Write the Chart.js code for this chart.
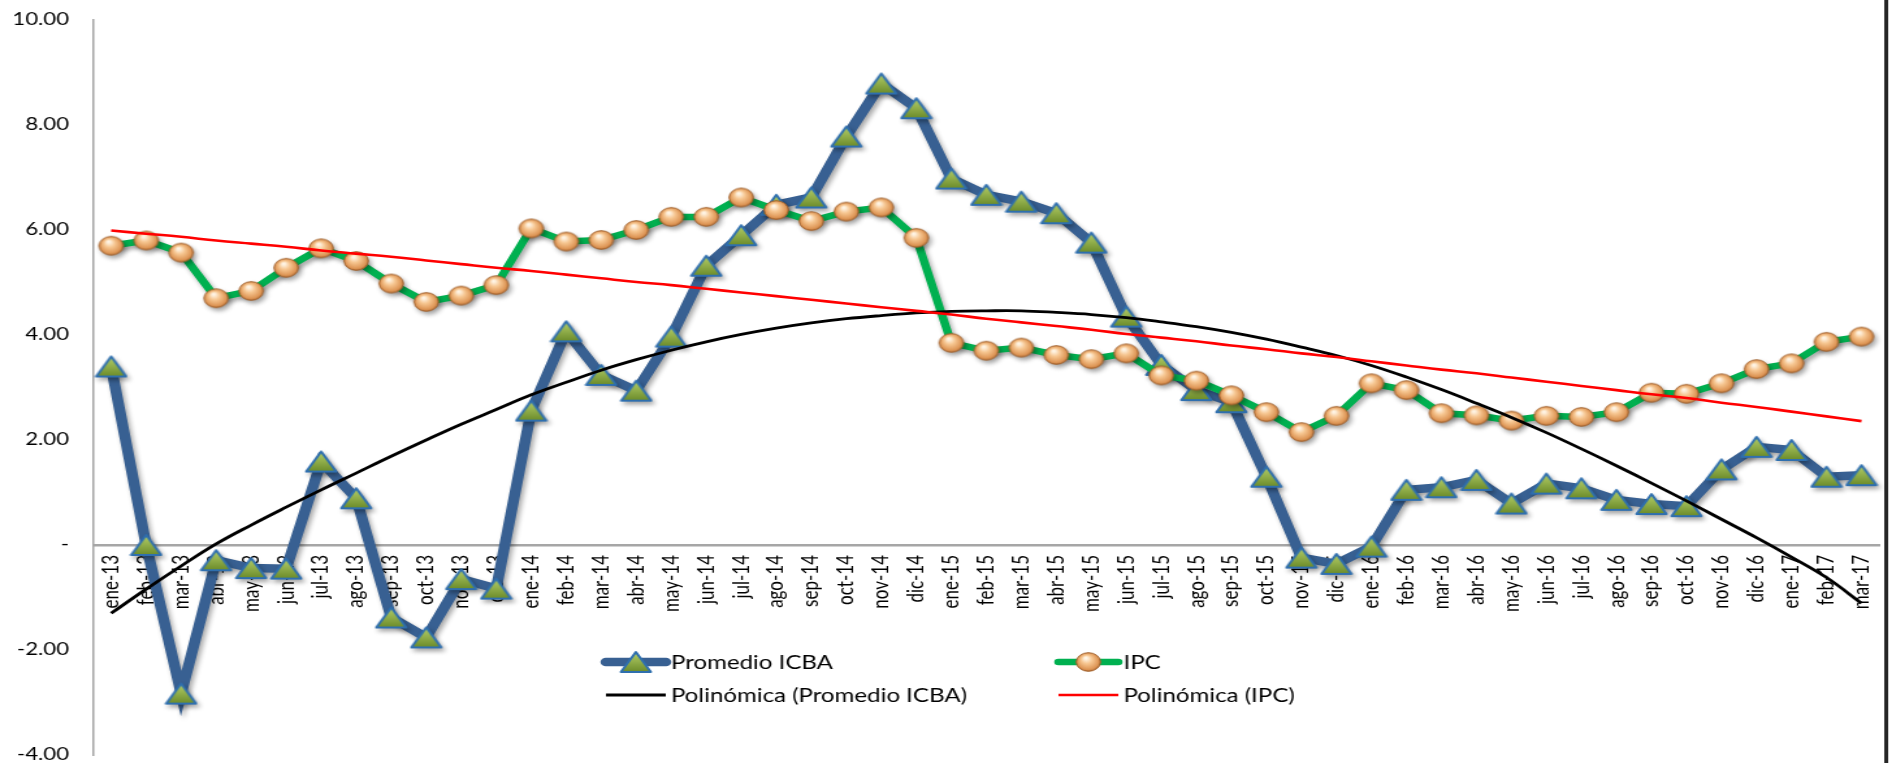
<!DOCTYPE html>
<html>
<head>
<meta charset="utf-8">
<script src="https://cdn.jsdelivr.net/npm/chart.js@4.4.1/dist/chart.umd.min.js"></script>
<style>
    html, body { margin: 0; padding: 0; background: #fff; overflow: hidden; }
    /* el grafico original esta estirado en horizontal: se dibuja a 1455 de ancho y se estira a 1892 */
    #marco { width: 1455px; height: 763px; transform: scaleX(1.30034); transform-origin: 0 0; }
    #grafico { display: block; }
</style>
</head>
<body>
<div id="marco"><canvas id="grafico" width="1455" height="763"></canvas></div>
<script>
const meses = [
    "ene-13", "feb-13", "mar-13", "abr-13", "may-13", "jun-13", "jul-13", "ago-13", "sep-13", "oct-13", "nov-13", "dic-13",
    "ene-14", "feb-14", "mar-14", "abr-14", "may-14", "jun-14", "jul-14", "ago-14", "sep-14", "oct-14", "nov-14", "dic-14",
    "ene-15", "feb-15", "mar-15", "abr-15", "may-15", "jun-15", "jul-15", "ago-15", "sep-15", "oct-15", "nov-15", "dic-15",
    "ene-16", "feb-16", "mar-16", "abr-16", "may-16", "jun-16", "jul-16", "ago-16", "sep-16", "oct-16", "nov-16", "dic-16",
    "ene-17", "feb-17", "mar-17"
];

const promedioIcba = [
    3.40, 0.00, -2.83, -0.29, -0.44, -0.45, 1.59, 0.89, -1.38, -1.76, -0.65, -0.83,
    2.56, 4.07, 3.24, 2.94, 3.97, 5.32, 5.90, 6.48, 6.62, 7.78, 8.79, 8.32,
    6.98, 6.67, 6.54, 6.32, 5.76, 4.35, 3.43, 2.95, 2.72, 1.30, -0.24, -0.36,
    -0.03, 1.05, 1.10, 1.24, 0.79, 1.17, 1.08, 0.86, 0.78, 0.74, 1.44, 1.87,
    1.81, 1.30, 1.33
];

const ipc = [
    5.70, 5.80, 5.57, 4.70, 4.84, 5.28, 5.65, 5.41, 4.98, 4.63, 4.75, 4.95,
    6.03, 5.78, 5.81, 6.00, 6.25, 6.25, 6.62, 6.38, 6.17, 6.35, 6.43, 5.85,
    3.85, 3.70, 3.76, 3.62, 3.54, 3.65, 3.23, 3.13, 2.85, 2.53, 2.15, 2.46,
    3.08, 2.95, 2.51, 2.47, 2.37, 2.46, 2.44, 2.53, 2.90, 2.88, 3.08, 3.35,
    3.46, 3.87, 3.97
];

// lineas de tendencia
const tendenciaIcba = [
    -1.30, -0.84, -0.40, 0.02, 0.38, 0.72, 1.05, 1.37, 1.69, 2.00, 2.30, 2.58,
    2.86, 3.10, 3.33, 3.53, 3.71, 3.87, 4.01, 4.13, 4.23, 4.31, 4.37, 4.42,
    4.45, 4.46, 4.46, 4.43, 4.39, 4.33, 4.25, 4.16, 4.05, 3.92, 3.77, 3.61,
    3.42, 3.20, 2.96, 2.70, 2.43, 2.14, 1.83, 1.51, 1.18, 0.84, 0.49, 0.14,
    -0.23, -0.62, -1.11
];

const tendenciaIpc = [
    5.99, 5.93, 5.87, 5.80, 5.74, 5.68, 5.61, 5.55, 5.49, 5.42, 5.35, 5.28,
    5.22, 5.15, 5.08, 5.01, 4.95, 4.88, 4.81, 4.74, 4.67, 4.60, 4.53, 4.46,
    4.39, 4.31, 4.24, 4.17, 4.10, 4.02, 3.95, 3.88, 3.80, 3.73, 3.65, 3.58,
    3.50, 3.42, 3.34, 3.27, 3.19, 3.11, 3.03, 2.95, 2.87, 2.80, 2.71, 2.63,
    2.54, 2.45, 2.36
];

const yTicks = [-4, -2, 0, 2, 4, 6, 8, 10];

const fuente = "Lato, 'Open Sans', sans-serif";

function marcaTriangulo() {
    const c = document.createElement("canvas");
    c.width = 26;
    c.height = 24;
    const g = c.getContext("2d");
    g.beginPath();
    g.moveTo(13, 2);
    g.lineTo(24.5, 22);
    g.lineTo(1.5, 22);
    g.closePath();
    const grad = g.createLinearGradient(0, 3, 0, 22);
    grad.addColorStop(0, "#b1cc66");
    grad.addColorStop(1, "#6b8b2a");
    g.fillStyle = grad;
    g.fill();
    g.lineJoin = "round";
    g.lineWidth = 2;
    g.strokeStyle = "#2f6fae";
    g.stroke();
    return c;
}

function marcaCirculo() {
    const c = document.createElement("canvas");
    c.width = 22;
    c.height = 22;
    const g = c.getContext("2d");
    const grad = g.createRadialGradient(9, 7, 1, 11, 11, 10);
    grad.addColorStop(0, "#fff4e4");
    grad.addColorStop(0.35, "#f7c792");
    grad.addColorStop(0.8, "#de9656");
    grad.addColorStop(1, "#a9632b");
    g.beginPath();
    g.arc(11, 11, 9.3, 0, Math.PI * 2);
    g.fillStyle = grad;
    g.fill();
    g.lineWidth = 1;
    g.strokeStyle = "#a2622d";
    g.stroke();
    return c;
}

const triangulo = marcaTriangulo();
const circulo = marcaCirculo();

// sin margenes extra de las etiquetas: el area queda fija por layout.padding
function sinRelleno(s) {
    s.paddingTop = 0;
    s.paddingBottom = 0;
    s.paddingLeft = 0;
    s.paddingRight = 0;
}

// sombra suave bajo las dos series principales
const sombra = {
    id: "sombra",
    beforeDatasetDraw(chart, args) {
        if (args.index > 1) return;
        const ctx = chart.ctx;
        ctx.save();
        ctx.shadowColor = "rgba(0,0,0,0.35)";
        ctx.shadowBlur = 4;
        ctx.shadowOffsetX = 2;
        ctx.shadowOffsetY = 3;
    },
    afterDatasetDraw(chart, args) {
        if (args.index > 1) return;
        chart.ctx.restore();
    }
};

// leyenda dentro del grafico y borde derecho
const leyenda = {
    id: "leyenda",
    afterDraw(chart) {
        const ctx = chart.ctx;
        const ds = chart.data.datasets;
        ctx.save();

        ctx.fillStyle = "#262626";
        ctx.fillRect(1449, 0, 3, chart.height);

        const items = [
            { ds: ds[0], x: 464, y: 662, marca: triangulo },
            { ds: ds[1], x: 812, y: 662, marca: circulo },
            { ds: ds[2], x: 464, y: 695, marca: null },
            { ds: ds[3], x: 812, y: 695, marca: null }
        ];
        ctx.font = "18.5px " + fuente;
        ctx.textBaseline = "middle";
        ctx.textAlign = "left";
        items.forEach(it => {
            ctx.beginPath();
            ctx.moveTo(it.x + 2, it.y);
            ctx.lineTo(it.x + 48, it.y);
            ctx.strokeStyle = it.ds.borderColor;
            ctx.lineWidth = it.ds.borderWidth;
            ctx.lineCap = it.marca ? "round" : "butt";
            ctx.stroke();
            if (it.marca) {
                ctx.drawImage(it.marca, it.x + 25 - it.marca.width / 2, it.y - it.marca.height / 2);
            }
            ctx.fillStyle = "#000";
            ctx.fillText(it.ds.label, it.x + 52, it.y + 1);
        });
        ctx.restore();
    }
};

new Chart(document.getElementById("grafico"), {
    type: "line",
    data: {
        labels: meses,
        datasets: [
            {
                label: "Promedio ICBA",
                data: promedioIcba,
                borderColor: "#386092",
                borderWidth: 8.5,
                pointStyle: triangulo,
                pointRadius: 10,
                tension: 0,
                order: 4
            },
            {
                label: "IPC",
                data: ipc,
                borderColor: "#00b050",
                borderWidth: 6.5,
                pointStyle: circulo,
                pointRadius: 10,
                tension: 0,
                order: 3
            },
            {
                label: "Polinómica (Promedio ICBA)",
                data: tendenciaIcba,
                borderColor: "#000000",
                borderWidth: 2.8,
                pointRadius: 0,
                tension: 0.4,
                order: 2
            },
            {
                label: "Polinómica (IPC)",
                data: tendenciaIpc,
                borderColor: "#ff0000",
                borderWidth: 2.6,
                pointRadius: 0,
                tension: 0.4,
                order: 1
            }
        ]
    },
    options: {
        responsive: false,
        devicePixelRatio: 1,
        animation: false,
        layout: { autoPadding: false, padding: { left: 0, right: 10, top: 20, bottom: 8 } },
        plugins: {
            legend: { display: false },
            tooltip: { enabled: false }
        },
        scales: {
            x: {
                position: { y: 0 },
                offset: true,
                afterFit: sinRelleno,
                grid: { display: false, drawTicks: false },
                border: { color: "#a6a6a6", width: 2.5 },
                ticks: {
                    autoSkip: false,
                    minRotation: 90,
                    maxRotation: 90,
                    padding: 10,
                    color: "#000",
                    font: { family: fuente, size: 17 }
                }
            },
            y: {
                min: -4,
                max: 10,
                afterBuildTicks: s => { s.ticks = yTicks.map(v => ({ value: v })); },
                afterFit: s => {
                    s.width = 72;
                    sinRelleno(s);
                },
                grid: { display: false, drawTicks: false },
                border: { color: "#a6a6a6", width: 1.5 },
                ticks: {
                    padding: 19,
                    color: "#000",
                    font: { family: fuente, size: 17 },
                    callback: v => v === 0 ? "-" : v.toFixed(2)
                }
            }
        }
    },
    plugins: [sombra, leyenda]
});
</script>
</body>
</html>
